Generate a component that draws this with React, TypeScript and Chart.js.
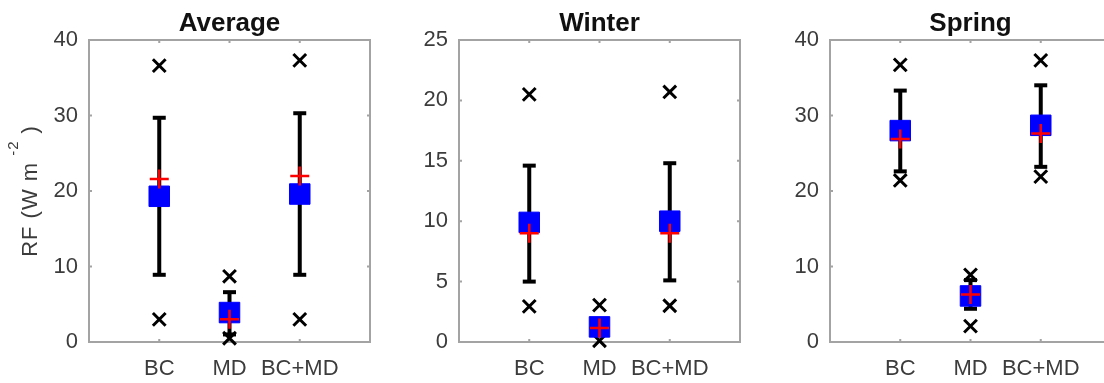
import React, { useEffect, useRef } from 'react';
import { Chart, registerables } from 'chart.js';

Chart.register(...registerables);

// ---------- data ----------
const categories = ['BC', 'MD', 'BC+MD'];
const categoryPositions = [1, 2, 3];

const titles = ['Average', 'Winter', 'Spring'];
const yMaxes = [40, 25, 40];
const ySteps = [10, 5, 10];

// Average
const avgMean = [19.3, 3.9, 19.6];
const avgMedian = [21.6, 3.0, 22.0];
const avgLow = [8.9, 1.0, 8.9];
const avgHigh = [29.7, 6.6, 30.3];
const avgMin = [3.0, 0.5, 3.0];
const avgMax = [36.6, 8.7, 37.3];

// Winter
const winMean = [9.9, 1.25, 10.0];
const winMedian = [9.0, 1.15, 9.0];
const winLow = [5.0, 0.6, 5.1];
const winHigh = [14.6, 1.8, 14.8];
const winMin = [2.95, 0.1, 3.0];
const winMax = [20.5, 3.05, 20.7];

// Spring
const sprMean = [28.0, 6.1, 28.7];
const sprMedian = [26.9, 6.3, 27.6];
const sprLow = [22.6, 4.4, 23.2];
const sprHigh = [33.3, 8.2, 34.0];
const sprMin = [21.4, 2.1, 21.9];
const sprMax = [36.7, 8.9, 37.3];

const meanSets = [avgMean, winMean, sprMean];
const medianSets = [avgMedian, winMedian, sprMedian];
const lowSets = [avgLow, winLow, sprLow];
const highSets = [avgHigh, winHigh, sprHigh];
const minSets = [avgMin, winMin, sprMin];
const maxSets = [avgMax, winMax, sprMax];

const yTitleMain = 'RF (W m';
const yTitleSup = '-2';
const yTitleEnd = ')';

// ---------- layout / style ----------
const FONT = "'Liberation Sans', Arial, Helvetica, sans-serif";
const panelLefts = [0, 370, 741];
const CANVAS_W = 372;
const CANVAS_H = 383;
const TEXT_COLOR = '#3c3c3c';
const BOX_COLOR = '#a3a3a3';

const pts = (vals: number[]) => vals.map((v, i) => ({ x: categoryPositions[i], y: v }));

const boxPlugin = {
  id: 'matlabBox',
  beforeDatasetsDraw(chart: any) {
    const { ctx, chartArea } = chart;
    const { left, right, top, bottom } = chartArea;
    ctx.save();
    ctx.strokeStyle = BOX_COLOR;
    ctx.lineWidth = 2;
    ctx.strokeRect(left, top, right - left, bottom - top);
    ctx.lineWidth = 2;
    const ys = chart.scales.y;
    ys.ticks.forEach((t: any) => {
      const p = ys.getPixelForValue(t.value);
      ctx.beginPath();
      ctx.moveTo(left, p);
      ctx.lineTo(left + 3, p);
      ctx.moveTo(right, p);
      ctx.lineTo(right - 3, p);
      ctx.stroke();
    });
    const xs = chart.scales.x;
    xs.ticks.forEach((t: any) => {
      const p = xs.getPixelForValue(t.value);
      ctx.beginPath();
      ctx.moveTo(p, bottom);
      ctx.lineTo(p, bottom - 3);
      ctx.moveTo(p, top);
      ctx.lineTo(p, top + 3);
      ctx.stroke();
    });
    ctx.restore();
  },
};

const yTitlePlugin = {
  id: 'yTitleSup',
  afterDraw(chart: any, _args: any, opts: any) {
    if (!opts || !opts.show) return;
    const { ctx, chartArea } = chart;
    const mainFont = `22px ${FONT}`;
    const supFont = `15px ${FONT}`;
    ctx.save();
    (ctx as any).letterSpacing = '1px';
    ctx.font = mainFont;
    const w1 = ctx.measureText(yTitleMain).width;
    const w3 = ctx.measureText(yTitleEnd).width;
    ctx.font = supFont;
    const w2 = ctx.measureText(yTitleSup).width;
    const gapA = 6;
    const gapB = 7;
    const total = w1 + gapA + w2 + gapB + w3;
    const cy = (chartArea.top + chartArea.bottom) / 2;
    ctx.translate(37, cy);
    ctx.rotate(-Math.PI / 2);
    ctx.fillStyle = TEXT_COLOR;
    ctx.textBaseline = 'alphabetic';
    ctx.textAlign = 'left';
    let u = -total / 2;
    ctx.font = mainFont;
    ctx.fillText(yTitleMain, u, 0);
    u += w1 + gapA;
    ctx.font = supFont;
    ctx.fillText(yTitleSup, u, -19);
    u += w2 + gapB;
    ctx.font = mainFont;
    ctx.fillText(yTitleEnd, u, 0);
    ctx.restore();
  },
};

function Panel({ index }: { index: number }) {
  const ref = useRef<HTMLCanvasElement | null>(null);
  useEffect(() => {
    const canvas = ref.current;
    if (!canvas) return;
    const errPts: any[] = [];
    categoryPositions.forEach((x, i) => {
      errPts.push({ x, y: lowSets[index][i] });
      errPts.push({ x, y: highSets[index][i] });
      errPts.push({ x, y: null });
    });
    const chart = new Chart(canvas, {
      type: 'scatter',
      data: {
        datasets: [
          {
            label: 'median',
            data: pts(medianSets[index]),
            pointStyle: 'cross',
            pointRadius: 9.5,
            borderColor: '#ff0000',
            backgroundColor: '#ff0000',
            pointBorderWidth: 2.5,
            clip: false,
          } as any,
          {
            label: 'mean',
            data: pts(meanSets[index]),
            pointStyle: 'rect',
            pointRadius: 14.5,
            borderColor: '#0000ff',
            backgroundColor: '#0000ff',
            pointBorderWidth: 1,
            clip: false,
          } as any,
          {
            label: 'range',
            data: errPts,
            showLine: true,
            spanGaps: false,
            borderColor: '#000000',
            borderWidth: 4,
            pointStyle: 'line',
            pointRadius: 6.5,
            pointBorderWidth: 4,
            pointBorderColor: '#000000',
            pointBackgroundColor: '#000000',
            clip: false,
          } as any,
          {
            label: 'extremes',
            data: [...pts(minSets[index]), ...pts(maxSets[index])],
            pointStyle: 'crossRot',
            pointRadius: 9,
            borderColor: '#000000',
            backgroundColor: '#000000',
            pointBorderWidth: 3,
            clip: false,
          } as any,
        ],
      },
      options: {
        responsive: false,
        animation: false,
        events: [],
        layout: { autoPadding: false, padding: { left: 0, right: 2, top: 0, bottom: 0 } },
        plugins: {
          legend: { display: false },
          tooltip: { enabled: false },
          title: {
            display: true,
            text: titles[index],
            fullSize: false,
            color: '#111111',
            font: { family: FONT, size: 26, weight: 'bold' },
            padding: { top: 7.9, bottom: 0.9 },
          },
          yTitleSup: { show: index === 0 },
        } as any,
        scales: {
          x: {
            type: 'linear',
            min: 0,
            max: 4,
            grid: { display: false, drawTicks: false },
            border: { display: false },
            afterBuildTicks: (s: any) => {
              s.ticks = categoryPositions.map((v) => ({ value: v }));
            },
            afterFit: (s: any) => {
              s.height = 41;
              s.paddingLeft = 0;
              s.paddingRight = 0;
            },
            ticks: {
              autoSkip: false,
              maxRotation: 0,
              padding: 14,
              color: TEXT_COLOR,
              font: { family: FONT, size: 22 },
              callback: (v: any) => {
                const k = categoryPositions.indexOf(Number(v));
                return k >= 0 ? categories[k] : '';
              },
            },
          },
          y: {
            type: 'linear',
            min: 0,
            max: yMaxes[index],
            grid: { display: false, drawTicks: false },
            border: { display: false },
            afterFit: (s: any) => {
              s.width = 89;
            },
            ticks: {
              stepSize: ySteps[index],
              padding: 11,
              color: TEXT_COLOR,
              font: { family: FONT, size: 22 },
            },
          },
        },
      } as any,
      plugins: [boxPlugin, yTitlePlugin],
    });
    return () => chart.destroy();
  }, [index]);
  return (
    <canvas
      ref={ref}
      width={CANVAS_W}
      height={CANVAS_H}
      style={{ position: 'absolute', left: panelLefts[index], top: 0, width: CANVAS_W, height: CANVAS_H }}
    />
  );
}

export default function App() {
  return (
    <div
      style={{
        position: 'fixed',
        left: 0,
        top: 0,
        width: 1104,
        height: 383,
        overflow: 'hidden',
        background: '#ffffff',
      }}
    >
      {titles.map((_, i) => (
        <Panel key={i} index={i} />
      ))}
    </div>
  );
}
